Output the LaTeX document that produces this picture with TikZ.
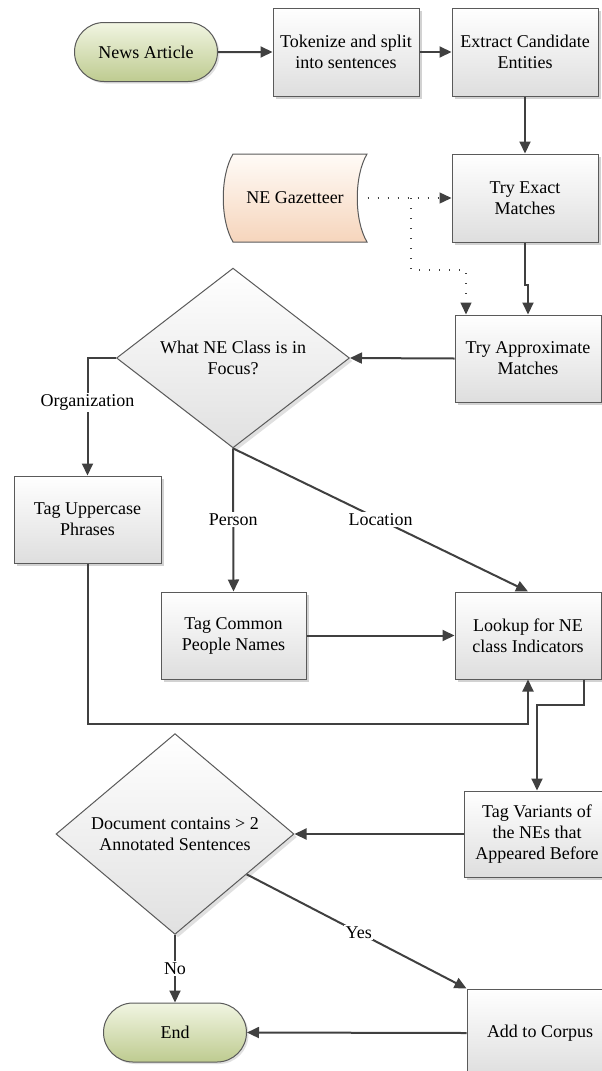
\documentclass[tikz,border=0pt]{standalone}
\usepackage{fontspec}
\setmainfont{Liberation Serif}
\usetikzlibrary{arrows.meta,shapes.geometric,shapes.misc,shadows,calc,positioning}

\definecolor{linegray}{HTML}{404040}
\definecolor{framegray}{HTML}{5A5A5A}
\definecolor{greentop}{HTML}{F1F5E2}
\definecolor{greenbot}{HTML}{BECB90}
\definecolor{peachtop}{HTML}{FFFBF7}
\definecolor{peachbot}{HTML}{F6D5BC}

\tikzset{every picture/.style={line width=1pt}}
\tikzset{
	procbox/.style={rectangle,draw=framegray,top color=white,bottom color=black!13,
		minimum width=146pt,minimum height=88pt,align=center,inner sep=2pt,
		drop shadow={shadow xshift=3pt,shadow yshift=-3pt,fill=black!25,opacity=0.7}},
	termbox/.style={rounded rectangle,draw=framegray,top color=greentop,bottom color=greenbot,
		minimum width=147pt,minimum height=59pt,inner sep=2pt,
		drop shadow={shadow xshift=2pt,shadow yshift=-2pt,fill=black!20,opacity=0.6}},
	decbox/.style={diamond,draw=framegray,top color=white,bottom color=black!12,
		align=center,inner sep=0pt,
		drop shadow={shadow xshift=3pt,shadow yshift=-3pt,fill=black!20,opacity=0.6}},
	flow/.style={draw=linegray,line width=2pt,->},
	dotflow/.style={draw=linegray,line width=1.4pt,dash pattern=on 1.4pt off 8.6pt,->},
	edgelbl/.style={fill=white,inner sep=1.5pt}
}

\begin{document}
\begin{tikzpicture}[x=1pt,y=-1pt,>={Triangle[length=12pt,width=11pt]},
	font=\fontsize{18}{21}\selectfont]
	\useasboundingbox (0,0) rectangle (602,1071);
	%Top row
	\node[termbox] (news) at (146,52) {News Article};
	\node[procbox] (tok) at (346,52) {Tokenize and split\\into sentences};
	\node[procbox] (extract) at (525,52) {Extract Candidate\\Entities};
	%Matching
	\node[procbox] (exact) at (525,198) {Try Exact\\Matches};
	\node[procbox,minimum height=87pt] (approx) at (528,358.5) {Try Approximate\\Matches};
	%Gazetteer
	\path[draw=framegray,top color=peachtop,bottom color=peachbot]
		(233,154) -- (367,154) .. controls (354,176) and (354,220) .. (367,242)
		-- (233,242) .. controls (220,220) and (220,176) .. (233,154) -- cycle;
	\node[minimum width=144pt,minimum height=88pt] (gaz) at (295,198) {NE Gazetteer};
	\coordinate (gazsplit) at (411,198);
	%Class decision
	\node[decbox,minimum width=233pt,minimum height=140pt] (classdec) at (233,358)
		{What NE Class is in\\Focus?};
	\node[procbox,minimum width=147pt,minimum height=87pt] (upper) at (87.5,519.5) {Tag Uppercase\\Phrases};
	\node[procbox,minimum width=145pt,minimum height=87pt] (common) at (233.5,635.5) {Tag Common\\People Names};
	\node[procbox,minimum height=87pt] (lookup) at (528,635.5) {Lookup for NE\\class Indicators};
	%Bottom part
	\node[procbox,minimum height=86pt] (variants) at (537,834) {Tag Variants of\\the NEs that\\Appeared Before};
	\node[decbox,minimum width=238pt,minimum height=190pt] (docdec) at (175,834)
		{Document contains > 2\\Annotated Sentences};
	\node[procbox] (corpus) at (540,1033) {Add to Corpus};
	\node[termbox] (finish) at (175,1032.5) {End};

	%Arrows
	\draw[flow] (news) -- (tok);
	\draw[flow] (tok) -- (extract);
	\draw[flow] (extract) -- (exact);
	\draw[dotflow] (gaz.east) -- (exact.west);
	\draw[dotflow] (gazsplit) -- ++(0,72) -| ([xshift=-62pt]approx.north);
	\draw[flow] (exact.south) -- ++(0,42) -| (approx.north);
	\draw[flow] (approx.west) -- (classdec.east);
	\draw[flow] (classdec.west) -| node[edgelbl,pos=0.69]{Organization} (upper.north);
	\draw[flow] (classdec.south) -- node[edgelbl]{Person} (common.north);
	\draw[flow] (classdec.south) -- node[edgelbl]{Location} (lookup.north);
	\draw[flow] (common.east) -- (lookup.west);
	\draw[flow] (upper.south) -- ++(0,160) -| (lookup.south);
	\draw[flow] ([xshift=56pt]lookup.south) -- ++(0,25) -| (variants.north);
	\draw[flow] (variants.west) -- (docdec.east);
	\draw[flow] ($(docdec.east)!0.4!(docdec.south)$) -- node[edgelbl,pos=0.51]{Yes} (corpus.north west);
	\draw[flow] (docdec.south) -- node[edgelbl]{No} (finish.north);
	\draw[flow] (corpus.west) -- (finish.east);
\end{tikzpicture}
\end{document}
